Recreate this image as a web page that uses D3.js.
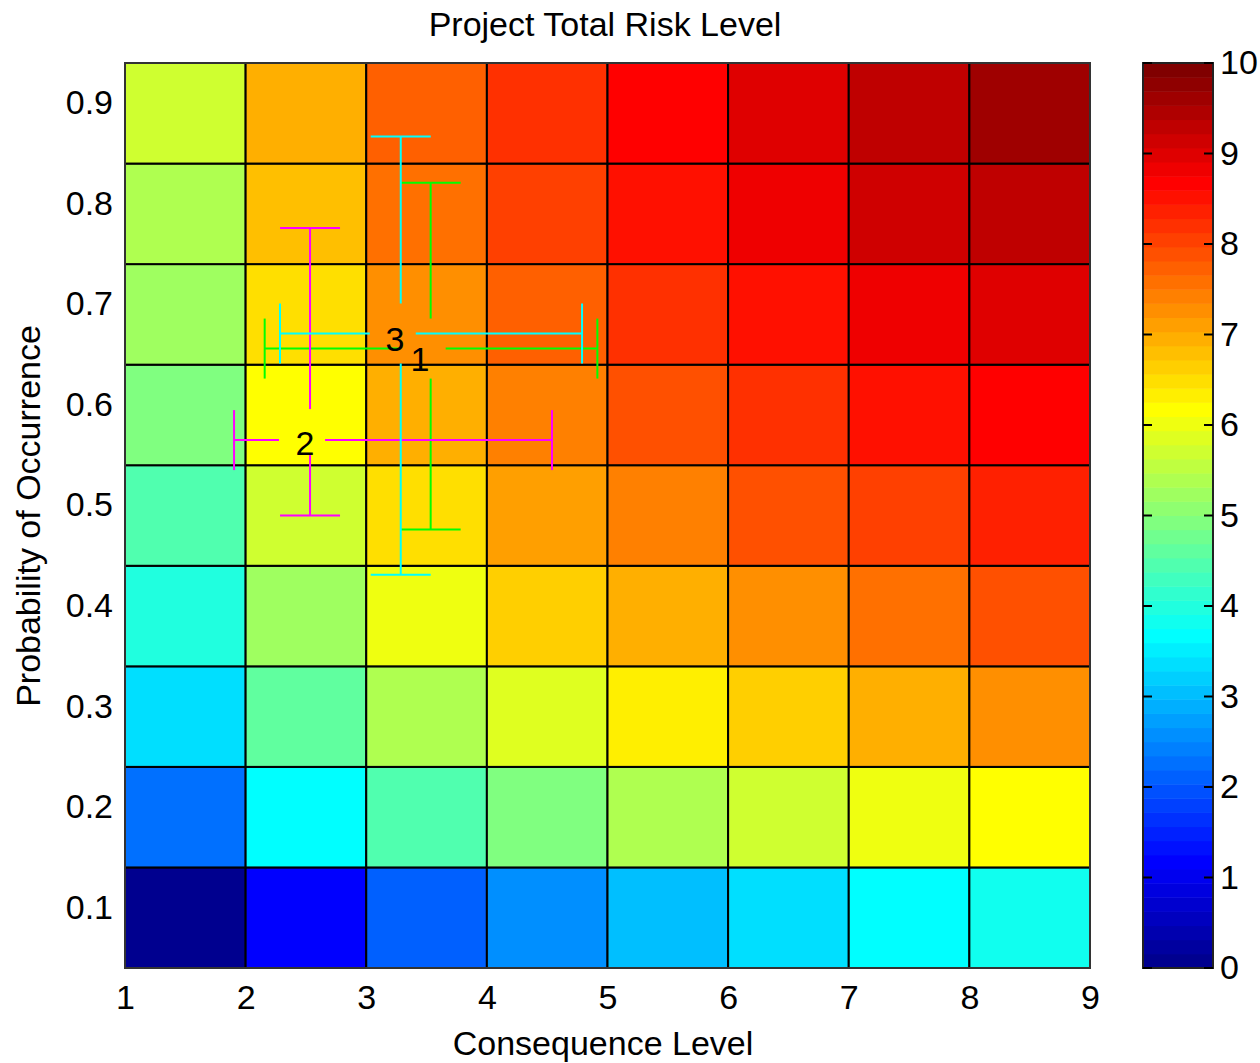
<!DOCTYPE html>
<html><head><meta charset="utf-8">
<script src="https://cdn.jsdelivr.net/npm/d3@7"></script>
<style>
body{margin:0;background:#fff;}
text{font-family:"Liberation Sans",Arial,Helvetica,sans-serif;fill:#000;}
</style>
</head><body>
<svg id="chart" width="1260" height="1063"></svg>
<script>
// ---------- data ----------
const consequenceLevels = [1, 2, 3, 4, 5, 6, 7, 8];          // left edge of each column
const probabilityLevels = [0.1, 0.2, 0.3, 0.4, 0.5, 0.6, 0.7, 0.8, 0.9];
const xTickValues = [1, 2, 3, 4, 5, 6, 7, 8, 9];
const yTickValues = [0.1, 0.2, 0.3, 0.4, 0.5, 0.6, 0.7, 0.8, 0.9];
const colorbarTicks = [0, 1, 2, 3, 4, 5, 6, 7, 8, 9, 10];
// risk level per row (probability 0.1 ... 0.9), per column (consequence 1..8)
const riskP01 = [0.05, 1.22, 2.12, 2.57, 3.0, 3.32, 3.67, 3.82];
const riskP02 = [2.27, 3.62, 4.45, 4.92, 5.39, 5.7, 6.02, 6.2];
const riskP03 = [3.37, 4.62, 5.39, 5.87, 6.32, 6.64, 6.95, 7.27];
const riskP04 = [3.98, 5.22, 6.02, 6.64, 6.95, 7.27, 7.57, 7.89];
const riskP05 = [4.45, 5.7, 6.47, 7.12, 7.42, 7.89, 8.04, 8.37];
const riskP06 = [4.92, 6.2, 6.95, 7.42, 7.89, 8.2, 8.52, 8.7];
const riskP07 = [5.22, 6.52, 7.27, 7.72, 8.2, 8.52, 8.89, 9.05];
const riskP08 = [5.37, 6.79, 7.57, 8.04, 8.52, 8.89, 9.12, 9.37];
const riskP09 = [5.7, 6.95, 7.72, 8.2, 8.7, 9.0, 9.32, 9.67];
const riskRows = [riskP01, riskP02, riskP03, riskP04, riskP05, riskP06, riskP07, riskP08, riskP09];

// error-bar crosses (project risks 1, 2, 3)
const riskLabels   = ["1", "2", "3"];
const riskConseq   = [3.534, 2.534, 3.286];
const riskProb     = [0.666, 0.575, 0.681];
const conseqLow    = [2.158, 1.904, 2.285];
const conseqHigh   = [4.916, 4.540, 4.789];
const probLow      = [0.486, 0.500, 0.441];
const probHigh     = [0.831, 0.786, 0.877];
const labelConseq  = [3.446, 2.492, 3.238];
const labelProb    = [0.656, 0.572, 0.675];

// ---------- style ----------
const barColors = ["#00ff00", "#ff00ff", "#00ffff"];
const gapLeft = [31, 31, 31], gapRight = [15, 15, 15], gapUp = [30, 31, 30], gapDown = [30, 15, 30];
const capHalf = 30;

// ---------- MATLAB jet(64) ----------
function jet(m) {
  const n = Math.ceil(m / 4);
  const u = [];
  for (let i = 1; i <= n; i++) u.push(i / n);
  for (let i = 1; i < n; i++) u.push(1);
  for (let i = n; i >= 1; i--) u.push(i / n);
  const g0 = Math.ceil(n / 2) - (m % 4 === 1 ? 1 : 0);
  const J = Array.from({length: m}, () => [0, 0, 0]);
  u.forEach((val, k) => {
    const g = g0 + k + 1, r = g + n, b = g - n;
    if (r >= 1 && r <= m) J[r - 1][0] = val;
    if (g >= 1 && g <= m) J[g - 1][1] = val;
    if (b >= 1 && b <= m) J[b - 1][2] = val;
  });
  return J.map(c => d3.rgb(c[0] * 255, c[1] * 255, c[2] * 255).formatHex());
}
const jetColors = jet(64);
const colorScale = d3.scaleQuantize().domain([0, 10]).range(jetColors);

// ---------- layout ----------
const svg = d3.select("#chart");
const x = d3.scaleLinear().domain([1, 9]).range([125, 1090]);
const y = d3.scaleLinear().domain([0.05, 0.95]).range([968, 63]);
const cb = d3.scaleLinear().domain([0, 10]).range([968, 63]);
const FS = 34;

// cells
const cells = [];
riskRows.forEach((row, ri) => row.forEach((v, ci) => cells.push({c: consequenceLevels[ci], p: probabilityLevels[ri], v})));
svg.append("g").selectAll("rect").data(cells).join("rect")
  .attr("x", d => x(d.c)).attr("width", d => x(d.c + 1) - x(d.c))
  .attr("y", d => y(d.p + 0.05)).attr("height", d => y(d.p - 0.05) - y(d.p + 0.05))
  .attr("fill", d => colorScale(d.v))
  .attr("stroke", "#000").attr("stroke-width", 2);

// frame
svg.append("rect").attr("x", x(1)).attr("y", y(0.95)).attr("width", x(9) - x(1)).attr("height", y(0.05) - y(0.95))
  .attr("fill", "none").attr("stroke", "#333").attr("stroke-width", 2);

// error bar crosses
const gb = svg.append("g");
riskLabels.forEach((lab, i) => {
  const cx = x(riskConseq[i]), cy = y(riskProb[i]);
  const xl = x(conseqLow[i]), xh = x(conseqHigh[i]);
  const yl = y(probLow[i]), yh = y(probHigh[i]);
  const col = barColors[i];
  const segs = [
    [xl, cy, cx - gapLeft[i], cy],
    [cx + gapRight[i], cy, xh, cy],
    [cx, yh, cx, cy - gapUp[i]],
    [cx, cy + gapDown[i], cx, yl],
    [xl, cy - capHalf, xl, cy + capHalf],
    [xh, cy - capHalf, xh, cy + capHalf],
    [cx - capHalf, yh, cx + capHalf, yh],
    [cx - capHalf, yl, cx + capHalf, yl]
  ];
  gb.selectAll(null).data(segs).join("line")
    .attr("x1", d => d[0]).attr("y1", d => d[1]).attr("x2", d => d[2]).attr("y2", d => d[3])
    .attr("stroke", col).attr("stroke-width", 2);
});
svg.append("g").selectAll("text").data(riskLabels).join("text")
  .attr("x", (d, i) => x(labelConseq[i])).attr("y", (d, i) => y(labelProb[i]))
  .attr("dy", "0.35em").attr("text-anchor", "middle")
  .style("font-size", FS + "px").text(d => d);

// axes
const xAxis = svg.append("g").attr("transform", `translate(0,${y(0.05)})`)
  .call(d3.axisBottom(x).tickValues(xTickValues).tickSize(0).tickFormat(d3.format("d")));
xAxis.select(".domain").remove();
xAxis.selectAll("text").attr("y", 29).attr("dy", "0.35em").style("font-size", FS + "px")
  .style("font-family", '"Liberation Sans",Arial,sans-serif');

const yAxis = svg.append("g").attr("transform", `translate(${x(1)},0)`)
  .call(d3.axisLeft(y).tickValues(yTickValues).tickSize(0).tickFormat(d3.format(".1f")));
yAxis.select(".domain").remove();
yAxis.selectAll("text").attr("x", -12).attr("y", -11.5).attr("dy", "0.35em").style("font-size", FS + "px")
  .style("font-family", '"Liberation Sans",Arial,sans-serif');

// titles
svg.append("text").attr("x", 605).attr("y", 36).attr("text-anchor", "middle")
  .style("font-size", FS + "px").text("Project Total Risk Level");
svg.append("text").attr("x", 603).attr("y", 1055).attr("text-anchor", "middle")
  .style("font-size", FS + "px").text("Consequence Level");
svg.append("text").attr("transform", "translate(40,516) rotate(-90)").attr("text-anchor", "middle")
  .style("font-size", FS + "px").text("Probability of Occurrence");

// colorbar
const cbX0 = 1143, cbX1 = 1213;
const cbg = svg.append("g");
cbg.selectAll("rect").data(jetColors).join("rect")
  .attr("x", cbX0).attr("width", cbX1 - cbX0)
  .attr("y", (d, i) => cb((i + 1) * 10 / 64)).attr("height", (d, i) => cb(i * 10 / 64) - cb((i + 1) * 10 / 64) + 0.5)
  .attr("fill", d => d);
cbg.append("rect").attr("x", cbX0).attr("y", cb(10)).attr("width", cbX1 - cbX0).attr("height", cb(0) - cb(10))
  .attr("fill", "none").attr("stroke", "#222").attr("stroke-width", 2);
cbg.selectAll("line.tl").data(colorbarTicks).join("line").attr("class", "tl")
  .attr("x1", cbX0).attr("x2", cbX0 + 9).attr("y1", d => cb(d)).attr("y2", d => cb(d))
  .attr("stroke", "#000").attr("stroke-width", 2);
cbg.selectAll("line.tr").data(colorbarTicks).join("line").attr("class", "tr")
  .attr("x1", cbX1 - 9).attr("x2", cbX1).attr("y1", d => cb(d)).attr("y2", d => cb(d))
  .attr("stroke", "#000").attr("stroke-width", 2);
const cbAxis = svg.append("g").attr("transform", `translate(${cbX1},0)`)
  .call(d3.axisRight(cb).tickValues(colorbarTicks).tickSize(0).tickPadding(7).tickFormat(d3.format("d")));
cbAxis.select(".domain").remove();
cbAxis.selectAll("text").style("font-size", FS + "px").style("font-family", '"Liberation Sans",Arial,sans-serif');
</script>
</body></html>
